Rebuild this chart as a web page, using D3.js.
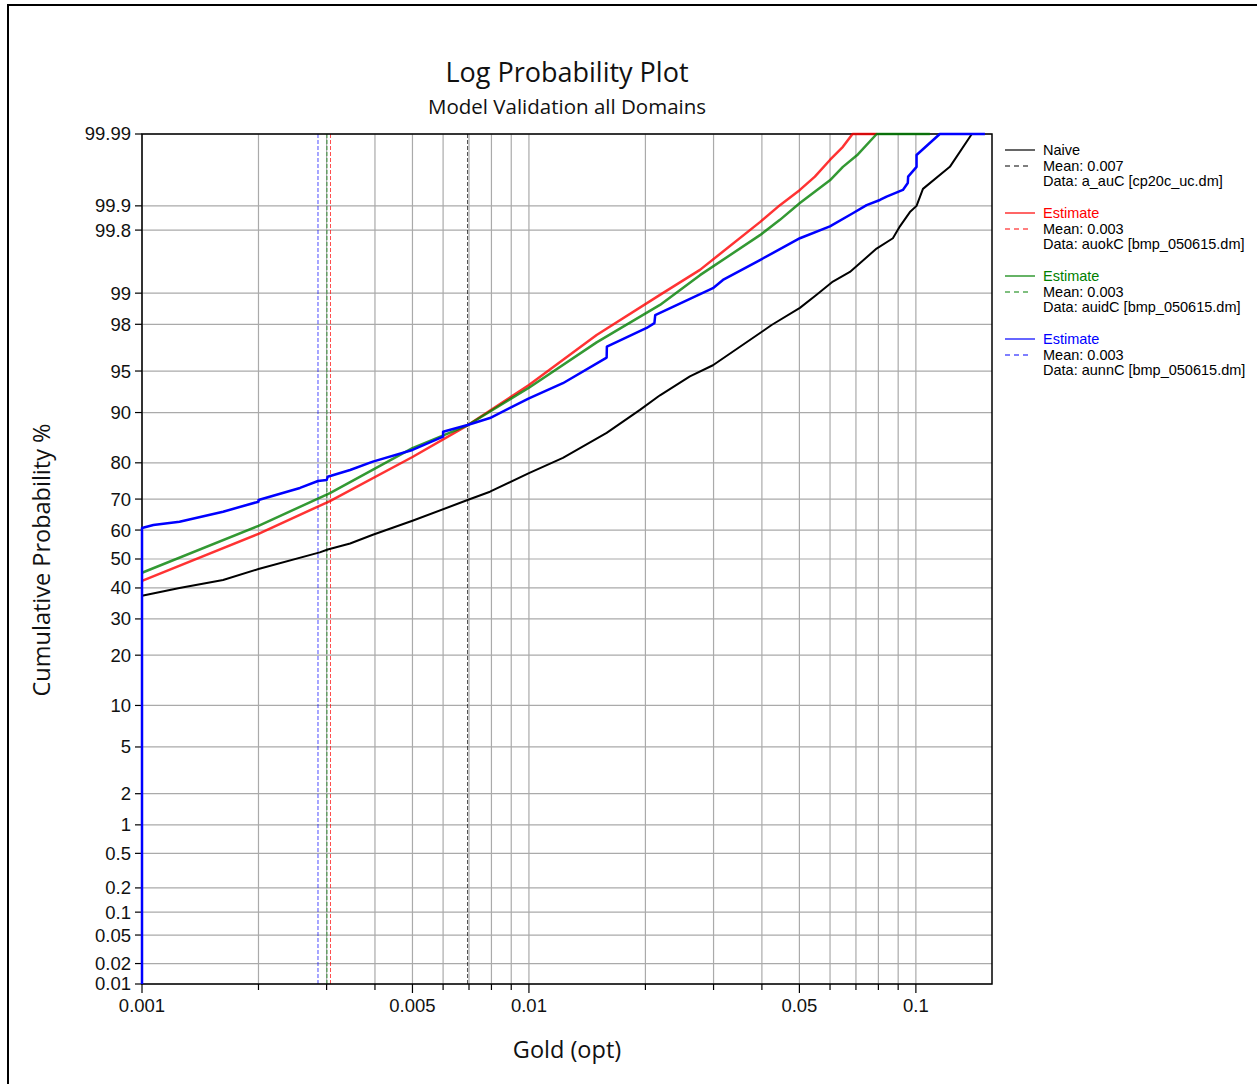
<!DOCTYPE html>
<html>
<head>
<meta charset="utf-8">
<script src="https://cdn.jsdelivr.net/npm/d3@7"></script>
<style>
  body { margin: 0; background: #fff; }
  svg text { font-family: "Open Sans", sans-serif; }
  svg text.tick { font-family: "Liberation Sans", Arial, sans-serif; }
  .legend text { font-family: "Liberation Sans", Arial, sans-serif; font-size: 14.5px; }
</style>
</head>
<body>
<svg id="chart"></svg>
<script>
// probability axis values (%) and log gold axis values
const yTicks = [0.01, 0.02, 0.05, 0.1, 0.2, 0.5, 1, 2, 5, 10, 20, 30, 40, 50, 60, 70, 80, 90, 95, 98, 99, 99.8, 99.9, 99.99];
const xGrid = [0.001, 0.002, 0.003, 0.004, 0.005, 0.006, 0.007, 0.008, 0.009,
               0.01, 0.02, 0.03, 0.04, 0.05, 0.06, 0.07, 0.08, 0.09, 0.1];
const xLabels = [0.001, 0.005, 0.01, 0.05, 0.1];

// [gold, cumulative %]
const naivePoints = [[0.001, 37.4], [0.00125, 40.0], [0.00162, 42.7], [0.002, 46.5], [0.00288, 52.3],
  [0.00302, 53.3], [0.00345, 55.4], [0.00395, 58.4], [0.005, 63.1], [0.00694, 69.7], [0.00793, 72.2],
  [0.01, 77.4], [0.01224, 81.2], [0.01588, 86.5], [0.01936, 90.4], [0.02181, 92.4], [0.02606, 94.5],
  [0.02989, 95.5], [0.04026, 97.7], [0.04238, 97.97], [0.05015, 98.6], [0.05539, 98.96], [0.06103, 99.24],
  [0.06753, 99.40], [0.07915, 99.67], [0.08722, 99.75], [0.09094, 99.82], [0.0965, 99.88], [0.1004, 99.90],
  [0.1043, 99.94], [0.1224, 99.97], [0.1395, 99.99]];

const redPoints = [[0.001, 42.4], [0.002, 58.7], [0.00306, 69.4], [0.005, 81.4], [0.00694, 87.9],
  [0.01, 93.6], [0.01496, 97.5], [0.02181, 98.96], [0.02767, 99.43], [0.03954, 99.84], [0.04453, 99.902],
  [0.05015, 99.938], [0.05483, 99.959], [0.05996, 99.976], [0.06477, 99.9845], [0.0686, 99.99], [0.0792, 99.99]];

const greenPoints = [[0.001, 45.2], [0.002, 61.4], [0.00306, 71.8], [0.005, 83.4], [0.00694, 87.9],
  [0.01, 93.3], [0.01496, 97.1], [0.02181, 98.69], [0.02767, 99.35], [0.03954, 99.77], [0.04453, 99.85],
  [0.05015, 99.908], [0.05996, 99.954], [0.06477, 99.970], [0.07081, 99.980], [0.0792, 99.99], [0.1087, 99.99]];

const bluePoints = [[0.001, 0.01], [0.001, 60.7], [0.00107, 61.7], [0.00125, 62.8], [0.00162, 66.05],
  [0.002, 69.2], [0.002, 69.7], [0.00256, 73.3], [0.00285, 75.25], [0.003, 75.5], [0.00302, 76.4],
  [0.00345, 78.2], [0.00395, 80.3], [0.005, 83.0], [0.006, 85.77], [0.006, 86.73], [0.00694, 87.95],
  [0.00793, 89.13], [0.01, 92.0], [0.01224, 93.8], [0.01588, 96.1], [0.0159, 96.84], [0.02015, 97.84],
  [0.0211, 98.05], [0.0212, 98.36], [0.02989, 99.11], [0.03172, 99.27], [0.03954, 99.555], [0.05015, 99.75],
  [0.05996, 99.82], [0.0687, 99.876], [0.07458, 99.902], [0.08072, 99.916], [0.084, 99.924], [0.09257, 99.938],
  [0.0953, 99.95], [0.0955, 99.959], [0.1004, 99.970], [0.1004, 99.9796], [0.1153, 99.99], [0.1508, 99.99]];

const seriesNames = ["Naive", "Estimate", "Estimate", "Estimate"];
const seriesColors = ["#000000", "#ff0000", "#008000", "#0000ff"];
const meanValues = [0.00694, 0.00307, 0.003006, 0.00285];
const meanLabels = ["0.007", "0.003", "0.003", "0.003"];
const dataLabels = ["a_auC [cp20c_uc.dm]", "auokC [bmp_050615.dm]", "auidC [bmp_050615.dm]", "aunnC [bmp_050615.dm]"];

const width = 1257, height = 1084;
const plotLeft = 142, plotRight = 992, plotTop = 134, plotBottom = 984;

// inverse normal CDF (Acklam)
function probit(p) {
  const a = [-3.969683028665376e+01, 2.209460984245205e+02, -2.759285104469687e+02, 1.383577518672690e+02, -3.066479806614716e+01, 2.506628277459239e+00];
  const b = [-5.447609879822406e+01, 1.615858368580409e+02, -1.556989798598866e+02, 6.680131188771972e+01, -1.328068155288572e+01];
  const c = [-7.784894002430293e-03, -3.223964580411365e-01, -2.400758277161838e+00, -2.549671324363080e+00, 4.374664141464968e+00, 2.938163982698783e+00];
  const d = [7.784695709041462e-03, 3.224671290700398e-01, 2.445134137142996e+00, 3.754408661907416e+00];
  const plow = 0.02425;
  if (p < plow) {
    const q = Math.sqrt(-2 * Math.log(p));
    return (((((c[0]*q+c[1])*q+c[2])*q+c[3])*q+c[4])*q+c[5]) / ((((d[0]*q+d[1])*q+d[2])*q+d[3])*q+1);
  }
  if (p <= 1 - plow) {
    const q = p - 0.5, r = q * q;
    return (((((a[0]*r+a[1])*r+a[2])*r+a[3])*r+a[4])*r+a[5])*q / (((((b[0]*r+b[1])*r+b[2])*r+b[3])*r+b[4])*r+1);
  }
  const q = Math.sqrt(-2 * Math.log(1 - p));
  return -(((((c[0]*q+c[1])*q+c[2])*q+c[3])*q+c[4])*q+c[5]) / ((((d[0]*q+d[1])*q+d[2])*q+d[3])*q+1);
}

const svg = d3.select("#chart").attr("width", width).attr("height", height);

// outer frame
svg.append("rect").attr("x", 8).attr("y", 5).attr("width", 1400).attr("height", 1200)
  .attr("fill", "none").attr("stroke", "#000").attr("stroke-width", 2);

const xScale = d3.scaleLog().domain([0.001, 0.1573]).range([plotLeft, plotRight]);
const zScale = d3.scaleLinear().domain([probit(0.0001), probit(0.9999)]).range([plotBottom, plotTop]);
const yPos = p => zScale(probit(p / 100));

// grid
svg.append("g").selectAll("line").data(xGrid).join("line")
  .attr("x1", d => xScale(d)).attr("x2", d => xScale(d))
  .attr("y1", plotTop).attr("y2", plotBottom)
  .attr("stroke", "#aaaaaa").attr("stroke-width", 1.2);
svg.append("g").selectAll("line").data(yTicks).join("line")
  .attr("x1", plotLeft).attr("x2", plotRight)
  .attr("y1", d => yPos(d)).attr("y2", d => yPos(d))
  .attr("stroke", "#aaaaaa").attr("stroke-width", 1.2);

// mean lines
svg.append("g").selectAll("line").data(meanValues).join("line")
  .attr("x1", d => xScale(d)).attr("x2", d => xScale(d))
  .attr("y1", plotTop).attr("y2", plotBottom)
  .attr("stroke", (d, i) => seriesColors[i])
  .attr("stroke-opacity", 0.7)
  .attr("stroke-width", 1)
  .attr("stroke-dasharray", "4,2");

// y ticks and labels
svg.append("g").selectAll("line").data(yTicks).join("line")
  .attr("x1", plotLeft - 7).attr("x2", plotLeft)
  .attr("y1", d => yPos(d)).attr("y2", d => yPos(d))
  .attr("stroke", "#000").attr("stroke-width", 1.2);
svg.append("g").selectAll("text").data(yTicks).join("text")
  .attr("class", "tick")
  .attr("x", plotLeft - 11).attr("y", d => yPos(d)).attr("dy", "0.35em")
  .attr("text-anchor", "end").attr("font-size", 18.5).attr("fill", "#111")
  .text(d => d);

// x ticks and labels
svg.append("g").selectAll("line").data(xGrid).join("line")
  .attr("x1", d => xScale(d)).attr("x2", d => xScale(d))
  .attr("y1", plotBottom).attr("y2", d => plotBottom + (xLabels.includes(d) ? 9 : 6))
  .attr("stroke", "#000").attr("stroke-width", 1.2);
svg.append("g").selectAll("text").data(xLabels).join("text")
  .attr("class", "tick")
  .attr("x", d => xScale(d)).attr("y", plotBottom + 28)
  .attr("text-anchor", "middle").attr("font-size", 18.5).attr("fill", "#111")
  .text(d => d);

// plot frame
svg.append("rect").attr("x", plotLeft).attr("y", plotTop).attr("width", plotRight - plotLeft).attr("height", plotBottom - plotTop)
  .attr("fill", "none").attr("stroke", "#000").attr("stroke-width", 1.5);

// curves
const line = d3.line().x(d => xScale(d[0])).y(d => yPos(d[1]));
svg.append("defs").append("clipPath").attr("id", "clip")
  .append("rect").attr("x", plotLeft - 3).attr("y", plotTop - 2).attr("width", plotRight - plotLeft + 4).attr("height", plotBottom - plotTop + 3);
const curves = svg.append("g").attr("clip-path", "url(#clip)");
[naivePoints, redPoints, greenPoints, bluePoints].forEach((pts, i) => {
  curves.append("path").datum(pts)
    .attr("d", line)
    .attr("fill", "none")
    .attr("stroke", seriesColors[i])
    .attr("stroke-opacity", i === 1 || i === 2 ? 0.8 : 1)
    .attr("stroke-width", i === 0 ? 2 : 2.5)
    .attr("stroke-linejoin", "round");
});

// titles
svg.append("text").attr("x", 567).attr("y", 82).attr("text-anchor", "middle")
  .attr("font-size", 27).attr("fill", "#111").text("Log Probability Plot");
svg.append("text").attr("x", 567).attr("y", 114).attr("text-anchor", "middle")
  .attr("font-size", 20.5).attr("fill", "#111").text("Model Validation all Domains");
svg.append("text").attr("x", 567).attr("y", 1058).attr("text-anchor", "middle")
  .attr("font-size", 23.5).attr("fill", "#111").text("Gold (opt)");
svg.append("text").attr("transform", "translate(50,560) rotate(-90)").attr("text-anchor", "middle")
  .attr("font-size", 23.5).attr("fill", "#111").text("Cumulative Probability %");

// legend
const legend = svg.append("g").attr("class", "legend");
seriesNames.forEach((name, i) => {
  const y0 = 150 + i * 63;
  legend.append("line").attr("x1", 1005).attr("x2", 1035).attr("y1", y0).attr("y2", y0)
    .attr("stroke", seriesColors[i]).attr("stroke-width", 1.2);
  legend.append("line").attr("x1", 1005).attr("x2", 1032).attr("y1", y0 + 16).attr("y2", y0 + 16)
    .attr("stroke", seriesColors[i]).attr("stroke-width", 1.2).attr("stroke-dasharray", "5,4");
  legend.append("text").attr("x", 1043).attr("y", y0 + 5).attr("fill", seriesColors[i]).text(name);
  legend.append("text").attr("x", 1043).attr("y", y0 + 21).attr("fill", "#000").text("Mean: " + meanLabels[i]);
  legend.append("text").attr("x", 1043).attr("y", y0 + 36).attr("fill", "#000").text("Data: " + dataLabels[i]);
});
</script>
</body>
</html>
